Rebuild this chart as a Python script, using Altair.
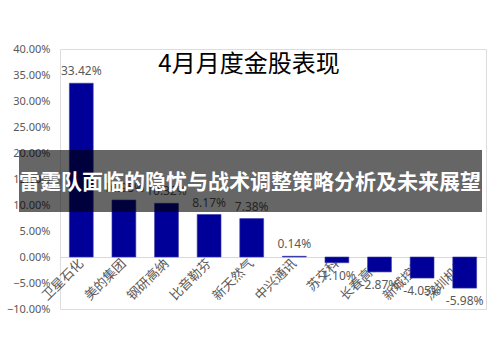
import altair as alt
import pandas as pd

categories = ["卫星石化", "美的集团", "钢研高纳", "比音勒芬", "新天然气",
              "中兴通讯", "苏交科", "长春高新", "新城控股", "深圳机场"]
values = [33.42, 10.95, 10.32, 8.17, 7.38, 0.14, -1.10, -2.87, -4.05, -5.98]
y_ticks = [-0.10, -0.05, 0.0, 0.05, 0.10, 0.15, 0.20, 0.25, 0.30, 0.35, 0.40]
title_text = "4月月度金股表现"
banner_text = "雷霆队面临的隐忧与战术调整策略分析及未来展望"

df = pd.DataFrame({
    "name": categories,
    "v": [x / 100 for x in values],
    "label": [f"{x:.2f}%" for x in values],
})

W, H = 426, 260
FONT = "Noto Sans"
CJK = "Noto Sans CJK SC"
GRAY = "#595959"

x_enc = alt.X("name:N", sort=categories, title=None,
              scale=alt.Scale(paddingInner=0.44, paddingOuter=0.22),
              axis=alt.Axis(labelAngle=-45, labelAlign="right", labelBaseline="middle",
                            labelFont=CJK, labelFontSize=13, labelColor=GRAY,
                            labelPadding=4, ticks=False, domainColor="#d9d9d9",
                            offset=-52, labelOverlap=False))
y_enc = alt.Y("v:Q", title=None,
              scale=alt.Scale(domain=[-0.10, 0.40], nice=False),
              axis=alt.Axis(values=y_ticks, format=".2%", grid=False, domain=False,
                            ticks=False, labelFont=FONT, labelFontSize=11,
                            labelColor=GRAY, labelPadding=10, labelOverlap=False))

base = alt.Chart(df)
bars = base.mark_bar(color="#000099", stroke="#3a3aa6", strokeWidth=0.6).encode(
    x=x_enc, y=y_enc)

pos_labels = base.transform_filter("datum.v >= 0").mark_text(
    font=FONT, fontSize=12, color=GRAY, baseline="bottom", dy=-5
).encode(x=x_enc, y=y_enc, text="label:N")

neg_labels = base.transform_filter("datum.v < 0").mark_text(
    font=FONT, fontSize=12, color=GRAY, baseline="top", dy=8
).encode(x=x_enc, y=y_enc, text="label:N")

title = alt.Chart(pd.DataFrame({"t": [title_text]})).mark_text(
    font=CJK, fontSize=24, fontWeight="normal", color="#000000", align="center", baseline="middle"
).encode(x=alt.value(189), y=alt.value(16), text="t:N")

banner_rect = alt.Chart(pd.DataFrame({"a": [0]})).mark_rect(
    color="#000000", opacity=0.6
).encode(x=alt.value(-41), x2=alt.value(422), y=alt.value(101), y2=alt.value(163))

banner = alt.Chart(pd.DataFrame({"t": [banner_text]})).mark_text(
    font=CJK, fontSize=21, fontWeight="bold", color="#ffffff", align="center", baseline="middle"
).encode(x=alt.value(190), y=alt.value(134), text="t:N")

chart = alt.layer(bars, pos_labels, neg_labels, title, banner_rect, banner).properties(
    width=W, height=H,
    autosize=alt.AutoSizeParams(type="none"),
    padding={"left": 60, "top": 49, "right": 14, "bottom": 53},
).configure_view(stroke="transparent", strokeWidth=0).configure(background="#ffffff")

chart.save("out.html", embed_options={"renderer": "svg", "actions": False})
